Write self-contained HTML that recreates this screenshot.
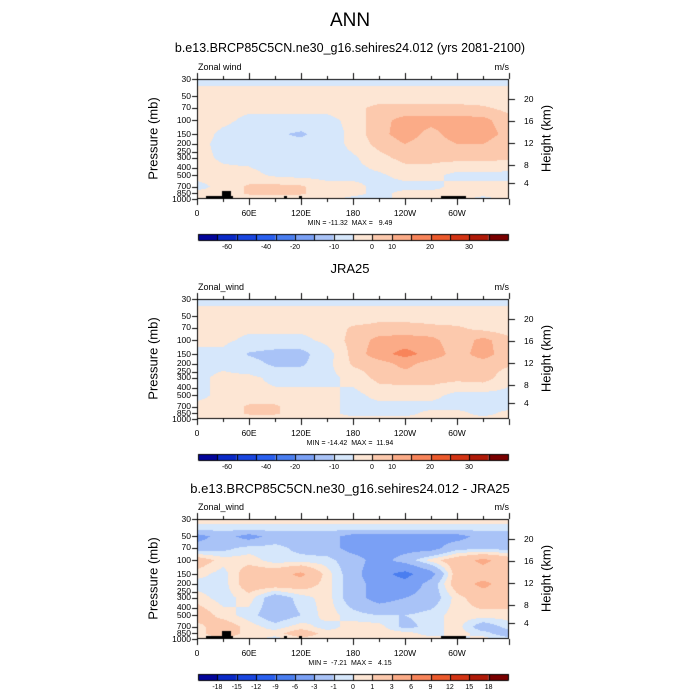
<!DOCTYPE html>
<html><head><meta charset="utf-8">
<style>
html,body{margin:0;background:#fff;width:700px;height:700px;overflow:hidden;}
#wrap{position:relative;width:700px;height:700px;overflow:hidden;font-family:"Liberation Sans",sans-serif;color:#000;}
.t{position:absolute;white-space:pre;line-height:1;}
canvas{position:absolute;left:0;top:0;}
</style></head>
<body>
<div id="wrap">
<div class="t" style="left:0;width:700px;text-align:center;top:11px;font-size:19px;">ANN</div>
<canvas id="cv" width="700" height="700"></canvas>
<div id="labels"></div>
</div>
<script>
// ---- data ----
const pressures=[30,40,50,70,100,150,200,300,500,700,850,1000];
const lons=[0,30,60,90,120,150,180,210,240,270,300,330,360];
const panel1Values=[
[-2,-2,-2,-2,-2,-2,-2,-2,-2,-2,-2,-2,-2],
[1,1,1,1,1,1,1,1,1,1,1,1,1],
[1,1,1,1,1,1,1,1,1,1,1,1,1],
[1,1,1,1,1,1,2,4,4,4,4,3.5,2],
[3,1,-1,-1,-1,-1,1,5,7,7,7,7,4],
[2,-1,-2,-4,-6,-2,1,5,7.5,5,7.5,7.5,5],
[1,-1,-2,-3,-3,-2,1,4,6,4.5,6,6,4],
[1,-0.5,-1,-2,-2,-1.5,-0.5,2,4,4,4,4,3.5],
[1,1,1,-0.5,-1,-1,-1,-0.5,1,1,-1,-1,-1],
[-1,1,3.5,4,3.5,1,1,-1,-1,-1,1,1,1],
[1,1,3.5,3.5,3.5,1,1,-1,1,1,1,1,1],
[3.5,1,1,1,1,1,-1,-1,1,1,1,-1,1]];
const panel2Values=[
[-2,-2,-2,-2,-2,-2,-2,-2,-2,-2,-2,-2,-2],
[1,1,1,1,1,1,1,1,1,1,1,1,1],
[1,1,1,1,1,1,1,2,2,2,1,1,1],
[1,1,1,1,1,1,3.5,4,4,3.5,3.5,2,1],
[1,1,-1,-1,-1,1,4,7,7.5,7,4,7,4],
[-1,-1,-5.5,-7,-7,-1.5,4,8,10,8,4.5,7.5,4],
[-1,-1,-3,-6,-6,-1,3.5,4.5,7,4.5,4,4.5,3.5],
[-1,1,1,-1,-1,-1,1,4,4.5,4.5,4,4.5,1],
[-1,1,1,1,1,1,-1,1,1,1,-1,-1,-1],
[1,1,3.5,3.5,1,1,-1,-1,-1,-1,-1,-1,-1],
[1,1,3.5,3.5,1,1,-1,-1,-1,1,1,-1,1],
[3.5,1,1,1,1,1,1,1,1,1,1,1,1]];
const panel3Values=[
[0.5,0.5,0.5,0.5,0.5,0.5,0.5,0.5,0.5,0.5,0.5,0.5,0.5],
[-0.5,-0.5,-0.5,-0.5,-0.5,-0.5,-0.5,-0.5,-0.5,-0.5,-0.5,-0.5,-0.5],
[-4,-2,-4,-2,-2,-2,-4,-4,-4,-4,-4,-2,-2],
[-2,-1.5,-0.5,-0.5,-1.5,-2,-4,-4,-4,-4,-1.5,-1.5,-1.5],
[2,0.5,0.5,-0.5,-0.5,-0.5,-2,-4,-2,0.5,2,3.5,2],
[0.5,-0.5,2,2,3.5,0.5,-2,-5,-7,-4,2,2,2],
[-0.5,-0.5,2,2,2,0.5,-2,-4,-5,-2,2,3.5,2],
[0.5,-0.5,0.5,-2,-0.5,0.5,-2,-4,-3,-2,0.5,2,2],
[2,0.5,-0.5,-2,-1,0.5,-0.5,-1,-1,-0.5,0.5,0.5,0.5],
[0.5,2,0.5,-0.5,0.5,-0.5,0.5,0.5,-1.5,-0.5,0.5,-2,-0.5],
[0.5,2,0.5,0.5,2,0.5,0.5,0.5,0.5,-0.5,0.5,-0.5,-2],
[0.5,0.5,0.5,-0.5,0.5,0.5,0.5,0.5,0.5,0.5,-0.5,0.5,-0.5]];
const levels12=[-10,-5,0,3,6,9];
const levels3=[-6,-3,-1,0,1,3];
const fillColors=['#7aa0f5','#a9c3f7','#d6e7fb','#fde6d4','#fcc9ad','#fbab87','#f8845a'];
const fillColors3=['#4a7ef0','#7aa0f5','#a9c3f7','#d6e7fb','#fde6d4','#fcc9ad','#fbab87'];
const cbColors=['#03059b','#0a2ac8','#1a46e0','#2a60f0','#4a7ef0','#7aa0f5','#a9c3f7','#d6e7fb','#fde6d4','#fcc9ad','#fbab87','#f8845a','#ec5a2c','#d43414','#b01a08','#7a0000'];
const pTicks=[30,50,70,100,150,200,250,300,400,500,700,850,1000];
const hTicks=[20,16,12,8,4];
const hTickY=[20,42,64,86,104];
const xTickLon=[0,60,120,180,240,300];
const xTickLab=['0','60E','120E','180','120W','60W'];
const cbLab12=['-60','-40','-20','-10','0','10','20','30'];
const cbLab12X=[227,266,295,334,372,392,430,469];
const cbLab3=['-18','-15','-12','-9','-6','-3','-1','0','1','3','6','9','12','15','18'];
const topo=[[206,233,3],[222,231,8],[284,287,3],[299,302,3],[441,466,3]];

const X0=197,W=312,H=120;
const panels=[
 {top:79,title:'b.e13.BRCP85C5CN.ne30_g16.sehires24.012 (yrs 2081-2100)',label:'Zonal wind',vals:panel1Values,lev:levels12,cols:fillColors,mm:'MIN = -11.32  MAX =   9.49',cb:12,topo:true},
 {top:299,title:'JRA25',label:'Zonal_wind',vals:panel2Values,lev:levels12,cols:fillColors,mm:'MIN = -14.42  MAX =  11.94',cb:12,topo:false},
 {top:519,title:'b.e13.BRCP85C5CN.ne30_g16.sehires24.012 - JRA25',label:'Zonal_wind',vals:panel3Values,lev:levels3,cols:fillColors3,mm:'MIN =  -7.21  MAX =   4.15',cb:3,topo:true}];

const L=document.getElementById('labels');
function txt(s,x,y,size,align,name,extra){
 const d=document.createElement('div');d.className='t';d.textContent=s;
 
 
 d.style.fontSize=size+'px';d.style.top=y+'px';
 if(align==='c'){d.style.left=(x-100)+'px';d.style.width='200px';d.style.textAlign='center';}
 else if(align==='r'){d.style.left=(x-100)+'px';d.style.width='100px';d.style.textAlign='right';}
 else d.style.left=x+'px';
 if(extra)Object.assign(d.style,extra);
 L.appendChild(d);return d;}
const lp=p=>Math.log(p);
function yOfP(p,top){return top+(lp(p)-lp(30))/(lp(1000)-lp(30))*H;}
function xOfLon(l){return X0+l/360*W;}
const cv=document.getElementById('cv'),ctx=cv.getContext('2d');
function sample(vals,lon,p){
 let j=Math.min(lons.length-2,Math.floor(lon/30));let fx=(lon-lons[j])/30;
 const q=lp(p);let i=0;while(i<pressures.length-2&&lp(pressures[i+1])<q)i++;
 let fy=(q-lp(pressures[i]))/(lp(pressures[i+1])-lp(pressures[i]));
 fy=Math.max(0,Math.min(1,fy));
 const a=vals[i][j],b=vals[i][j+1],c=vals[i+1][j],d=vals[i+1][j+1];
 return a*(1-fx)*(1-fy)+b*fx*(1-fy)+c*(1-fx)*fy+d*fx*fy;}
function colorOf(v,lev,cols){let k=0;while(k<lev.length&&v>=lev[k])k++;return cols[k];}

panels.forEach((P,pi)=>{
 const top=P.top;
 for(let py=0;py<H;py++){
  const p=Math.exp(lp(30)+(py+0.5)/H*(lp(1000)-lp(30)));
  for(let px=0;px<W;px++){
   const lon=(px+0.5)/W*360;
   ctx.fillStyle=colorOf(sample(P.vals,lon,p),P.lev,P.cols);
   ctx.fillRect(X0+px,top+py,1,1);}}
 if(P.topo){ctx.fillStyle='#000';topo.forEach(t=>ctx.fillRect(t[0],top+H-t[2],t[1]-t[0],t[2]));}
 ctx.strokeStyle='#000';ctx.lineWidth=1;
 ctx.strokeRect(X0+0.5,top+0.5,W-1,H-1);
 ctx.beginPath();
 for(let l=0;l<=360;l+=30){const x=Math.round(xOfLon(l))+0.5;const len=l%60===0?6:3;
  ctx.moveTo(x,top);ctx.lineTo(x,top-len);ctx.moveTo(x,top+H);ctx.lineTo(x,top+H+len);}
 pTicks.forEach(p=>{const y=Math.round(yOfP(p,top))+0.5;ctx.moveTo(X0,y);ctx.lineTo(X0-5,y);});
 hTickY.forEach(h=>{const y=top+h+0.5;ctx.moveTo(X0+W,y);ctx.lineTo(X0+W+6,y);});
 ctx.stroke();
 txt(P.title,350,top-37,pi===0?12.5:13,'c','panel-title-'+(pi+1),{left:'0px',width:'700px'});
 txt(P.label,198,top-16,9,'l','variable-label-'+(pi+1));
 txt('m/s',509,top-16,9,'r','units-label-'+(pi+1));
 pTicks.forEach(p=>txt(String(p),191,yOfP(p,top)-4.5,8.5,'r','pressure-tick-'+p));
 hTicks.forEach((h,k)=>txt(String(h),524,top+hTickY[k]-4.5,8.5,'l','height-tick-'+h));
 xTickLon.forEach((l,k)=>txt(xTickLab[k],xOfLon(l),top+H+10,8.5,'c','lon-tick-'+xTickLab[k]));
 txt(P.mm,350,top+H+21,7,'c','min-max-'+(pi+1));
 txt('Pressure (mb)',153,top+H/2-7,13,'c','y-axis-title-'+(pi+1),{transform:'rotate(-90deg)'});
 txt('Height (km)',546,top+H/2-7,13,'c','y2-axis-title-'+(pi+1),{transform:'rotate(-90deg)'});
 const cbY=top+155;const bw=(508-198)/16;
 cbColors.forEach((c,k)=>{ctx.fillStyle=c;ctx.fillRect(198+k*bw,cbY,bw,6);});
 ctx.beginPath();
 for(let k=0;k<=16;k++){const x=Math.round(198+k*bw)+0.5;ctx.moveTo(x,cbY);ctx.lineTo(x,cbY+6);}
 ctx.rect(198.5,cbY+0.5,310,6);ctx.stroke();
 if(P.cb===12)cbLab12.forEach((s,k)=>txt(s,cbLab12X[k],cbY+10,7,'c','colorbar-label'));
 else cbLab3.forEach((s,k)=>txt(s,198+(k+1)*bw,cbY+10,7,'c','colorbar-label'));
});
</script>
</body></html>
